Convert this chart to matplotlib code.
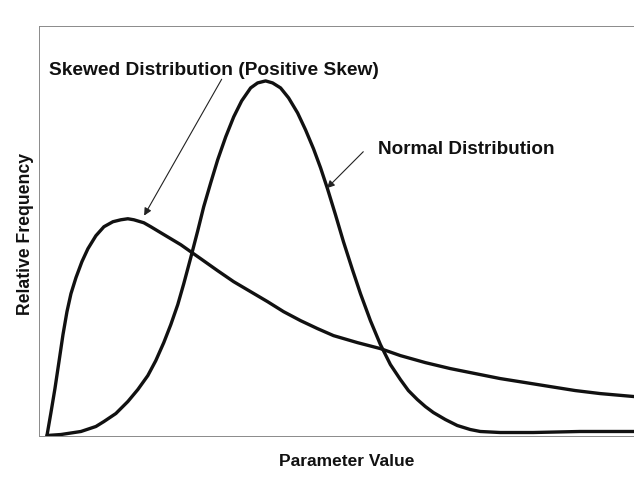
import matplotlib
matplotlib.use("Agg")
import matplotlib.pyplot as plt

plt.rcParams["font.family"] = ["Liberation Sans", "DejaVu Sans"]

# curves (x: parameter value, y: relative frequency, 0-100 scale)
skew_x = [1.34, 2.01, 2.68, 3.36, 4.03, 4.70, 5.37, 6.21, 7.21, 8.22, 9.56, 10.91,
          12.42, 13.76, 14.93, 15.94, 17.62, 18.79, 20.47, 22.15, 23.83, 25.50,
          27.18, 30.03, 32.72, 35.57, 38.42, 41.11, 43.96, 46.81, 49.50, 53.52,
          57.38, 60.74, 64.93, 69.13, 73.32, 77.52, 81.71, 85.91, 90.10, 94.30, 100.0]
skew_y = [0.0, 5.61, 11.46, 18.05, 24.63, 30.24, 34.63, 38.54, 42.44, 45.61, 48.78, 50.98,
          52.20, 52.68, 52.93, 52.68, 51.95, 50.98, 49.51, 48.05, 46.59, 44.88,
          43.17, 40.24, 37.56, 35.12, 32.68, 30.24, 28.05, 26.10, 24.39, 22.68,
          21.22, 19.51, 17.80, 16.34, 15.12, 13.90, 12.93, 11.95, 10.98, 10.24, 9.51]

normal_x = [1.34, 3.69, 7.05, 9.56, 10.91, 12.92, 14.93, 16.61, 18.29, 19.63, 20.97,
            22.15, 23.32, 24.33, 25.50, 26.68, 27.68, 28.86, 30.03, 31.38, 32.72,
            34.06, 35.57, 36.74, 38.09, 39.26, 40.60, 41.95, 43.46, 44.80, 46.14,
            47.32, 48.49, 49.83, 51.17, 52.68, 54.03, 55.70, 57.38, 59.06, 60.74,
            62.08, 63.59, 64.93, 66.28, 68.29, 70.30, 72.48, 74.16, 77.52, 83.05,
            90.94, 100.0]
normal_y = [0.0, 0.24, 0.98, 2.20, 3.41, 5.37, 8.29, 11.22, 14.63, 18.29, 22.68,
            27.07, 31.95, 37.07, 43.41, 50.00, 55.85, 61.71, 67.32, 72.93, 77.80,
            81.71, 84.88, 86.10, 86.59, 86.10, 84.88, 82.44, 78.78, 74.63, 70.00,
            65.37, 60.24, 53.90, 47.32, 40.49, 34.63, 28.05, 22.20, 17.32, 13.66,
            10.98, 8.78, 7.07, 5.61, 3.90, 2.44, 1.46, 0.98, 0.73, 0.73,
            0.98, 0.98]

skew_label = "Skewed Distribution (Positive Skew)"
normal_label = "Normal Distribution"
skew_text_xy = (1.7, 88.3)
skew_arrow_xy = (17.67, 53.7)
skew_arrow_from = (30.7, 87.0)
normal_text_xy = (56.9, 69.0)
normal_arrow_xy = (48.4, 60.4)
normal_arrow_from = (54.5, 69.3)

W, H = 634, 485
fig = plt.figure(figsize=(W / 100, H / 100), dpi=100)
fig.patch.set_facecolor("white")

left, right, top, bottom = 39, 634, 27, 436.5
ax = fig.add_axes([left / W, 1 - bottom / H, (right - left) / W, (bottom - top) / H])
ax.set_xlim(0, 100)
ax.set_ylim(0, 100)
ax.set_xticks([])
ax.set_yticks([])
for side in ("left", "top", "bottom"):
    ax.spines[side].set_color("#8a8a8a")
    ax.spines[side].set_linewidth(0.7)
ax.spines["right"].set_visible(False)

ax.plot(skew_x, skew_y, color="#111111", lw=2.4, solid_capstyle="round", solid_joinstyle="round")
ax.plot(normal_x, normal_y, color="#111111", lw=2.4, solid_capstyle="round", solid_joinstyle="round")

arrow = dict(arrowstyle="-|>", lw=0.8, color="#222222", mutation_scale=11,
             shrinkA=0, shrinkB=0)
ax.annotate("", xy=skew_arrow_xy, xytext=skew_arrow_from, arrowprops=arrow)
ax.annotate("", xy=normal_arrow_xy, xytext=normal_arrow_from, arrowprops=arrow)

ax.text(*skew_text_xy, skew_label, fontsize=13.8, fontweight="bold",
        ha="left", va="baseline", color="#111111")
ax.text(*normal_text_xy, normal_label, fontsize=13.6, fontweight="bold",
        ha="left", va="baseline", color="#111111")

fig.text(26 / W, 1 - 234 / H, "Relative Frequency", rotation=90, fontsize=12.7,
         fontweight="bold", ha="center", va="center", color="#111111")
fig.text(347 / W, 1 - 462 / H, "Parameter Value", fontsize=12.5,
         fontweight="bold", ha="center", va="center", color="#111111")

fig.savefig("out.png", dpi=100, facecolor="white")
